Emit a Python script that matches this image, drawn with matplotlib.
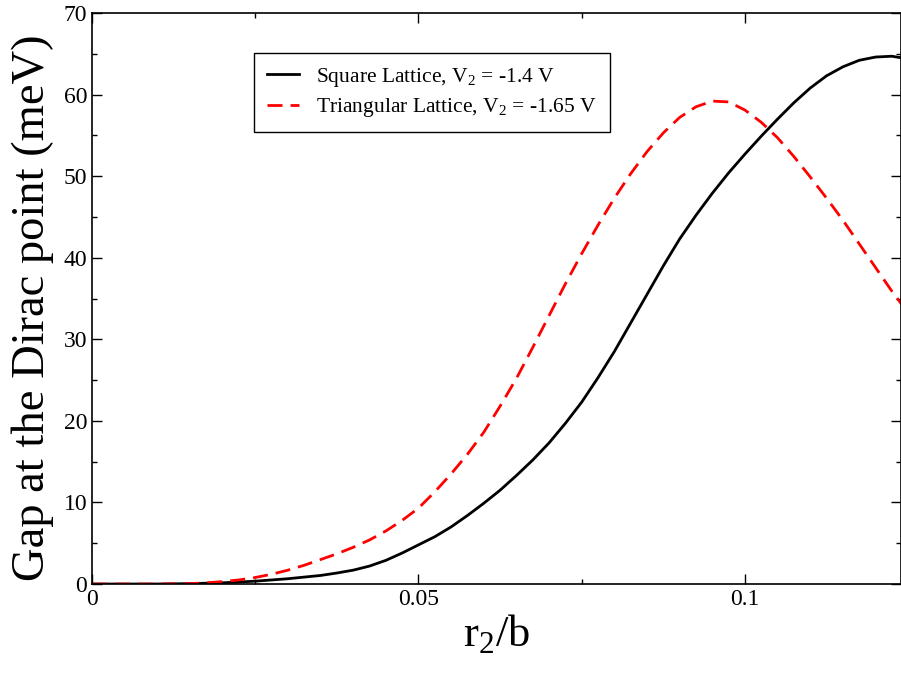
import matplotlib
matplotlib.use("Agg")
import matplotlib.pyplot as plt
from matplotlib.ticker import MultipleLocator, FormatStrFormatter

# r2/b 与能隙 (meV)
x_square = [0.0, 0.005, 0.01, 0.015, 0.02, 0.025, 0.03, 0.035, 0.0375, 0.04, 0.0425,
            0.045, 0.0475, 0.05, 0.0525, 0.055, 0.0575, 0.06, 0.0625, 0.065, 0.0675,
            0.07, 0.0725, 0.075, 0.0775, 0.08, 0.0825, 0.085, 0.0875, 0.09, 0.0925,
            0.095, 0.0975, 0.1, 0.1025, 0.105, 0.1075, 0.11, 0.1125, 0.115, 0.1175,
            0.12, 0.1225, 0.124]
gap_square = [0.0, 0.0, 0.0, 0.05, 0.15, 0.35, 0.65, 1.05, 1.35, 1.7, 2.2,
              2.9, 3.8, 4.8, 5.8, 7.0, 8.4, 9.9, 11.5, 13.3, 15.2,
              17.3, 19.7, 22.3, 25.3, 28.5, 32.0, 35.5, 39.0, 42.3, 45.2,
              47.9, 50.4, 52.7, 54.9, 57.0, 59.0, 60.8, 62.3, 63.4, 64.2,
              64.6, 64.7, 64.5]

x_tri = [0.0, 0.005, 0.01, 0.015, 0.0175, 0.02, 0.0225, 0.025, 0.0275, 0.03,
         0.0325, 0.035, 0.0375, 0.04, 0.0425, 0.045, 0.0475, 0.05, 0.0525, 0.055,
         0.0575, 0.06, 0.0625, 0.065, 0.0675, 0.07, 0.0725, 0.075, 0.0775, 0.08,
         0.0825, 0.085, 0.0875, 0.09, 0.0925, 0.095, 0.0975, 0.1, 0.1025, 0.105,
         0.1075, 0.11, 0.1125, 0.115, 0.1175, 0.12, 0.1225, 0.124]
gap_tri = [0.0, 0.0, 0.0, 0.05, 0.15, 0.3, 0.5, 0.8, 1.2, 1.7,
           2.3, 3.0, 3.7, 4.5, 5.4, 6.5, 7.8, 9.3, 11.3, 13.5,
           15.9, 18.6, 21.8, 25.2, 29.0, 32.9, 36.8, 40.5, 44.0, 47.3,
           50.3, 53.0, 55.3, 57.2, 58.5, 59.2, 59.1, 58.1, 56.6, 54.7,
           52.4, 49.9, 47.3, 44.6, 41.7, 38.8, 35.9, 34.3]

label_square = r"Square Lattice, $\mathregular{V_2}$ = -1.4 V"
label_tri = r"Triangular Lattice, $\mathregular{V_2}$ = -1.65 V"

plt.rcParams['font.family'] = ['Liberation Serif', 'DejaVu Serif']
plt.rcParams['mathtext.fontset'] = 'custom'
plt.rcParams['mathtext.rm'] = 'Liberation Serif'

fig = plt.figure(figsize=(9.01, 6.73), dpi=100)
ax = fig.add_axes([0.1021, 0.1322, 0.8979, 0.8485])

ax.plot(x_square, gap_square, color='black', linewidth=2.0, label=label_square)
ax.plot(x_tri, gap_tri, color='red', linewidth=2.0, dashes=(5.4, 2.9), label=label_tri)

ax.set_xlim(0, 0.1239)
ax.set_ylim(0, 70)

ax.xaxis.set_major_locator(MultipleLocator(0.05))
ax.xaxis.set_minor_locator(MultipleLocator(0.025))
ax.yaxis.set_major_locator(MultipleLocator(10))
ax.yaxis.set_minor_locator(MultipleLocator(5))
ax.xaxis.set_major_formatter(FormatStrFormatter('%g'))

ax.tick_params(which='both', direction='in', top=True, right=True, labelsize=17)
ax.tick_params(which='major', length=7, width=1)
ax.tick_params(which='minor', length=3.5, width=1)
for sp in ax.spines.values():
    sp.set_linewidth(1.2)

ax.set_xlabel(r"r$_2$/b", fontsize=32, labelpad=2)
ax.set_ylabel("Gap at the Dirac point (meV)", fontsize=33.5)
ax.yaxis.set_label_coords(-0.047, 0.483)

leg = ax.legend(loc='upper left', bbox_to_anchor=(0.2, 0.93), fontsize=15.5,
                fancybox=False, framealpha=1, edgecolor='black',
                handlelength=1.5, borderpad=0.6, labelspacing=0.35,
                borderaxespad=0)
leg.get_frame().set_linewidth(1.0)

fig.savefig("out.png", dpi=100)
